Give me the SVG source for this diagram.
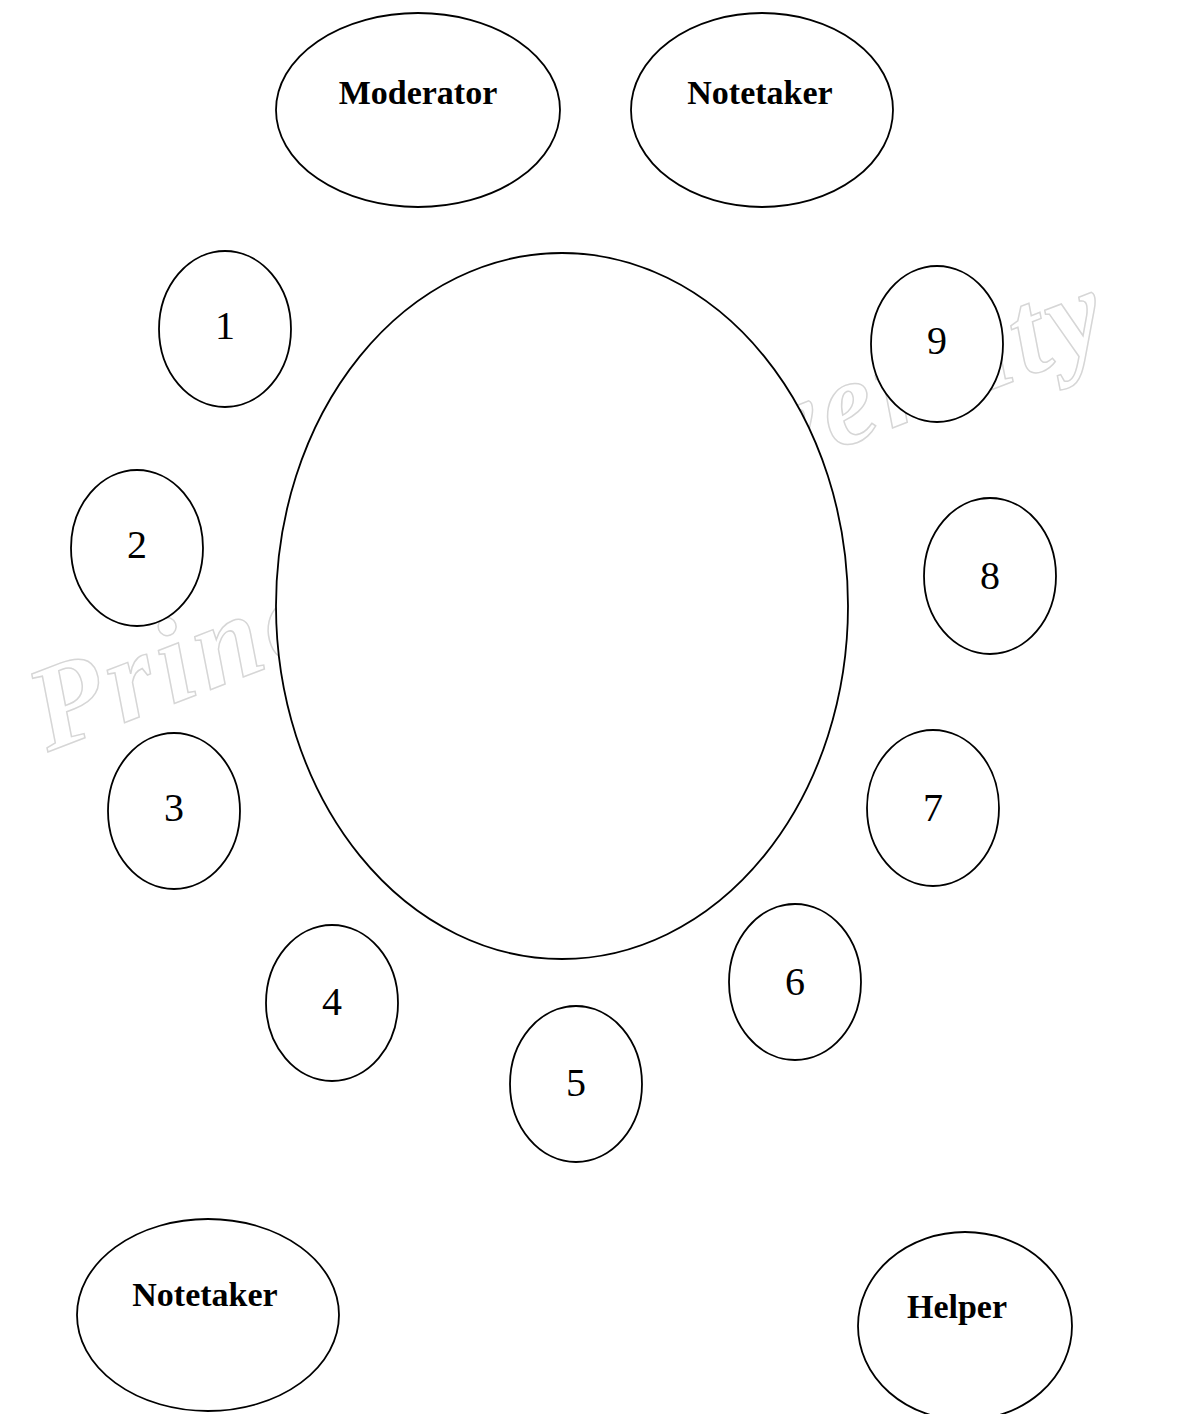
<svg xmlns="http://www.w3.org/2000/svg" width="1188" height="1414" viewBox="0 0 1188 1414">
<style>
.n{fill:#fff;stroke:#000;stroke-width:1.8}
.lb{font-family:"Liberation Serif",serif;font-weight:bold;font-size:34px;text-anchor:middle;fill:#000}
.num{font-family:"Liberation Serif",serif;font-size:40px;text-anchor:middle;fill:#000}
.wm{font-family:"Liberation Serif",serif;font-style:italic;font-weight:bold;font-size:120px;fill:#fff;stroke:#d6d6d6;stroke-width:1.5}
</style>
<rect width="1188" height="1414" fill="#fff"/>
<text class="wm" x="48" y="752" transform="rotate(-21 48 752)" textLength="1140" lengthAdjust="spacing">Princeton University</text>
<g id="connectors"></g>
<g id="moderator"><ellipse class="n" cx="418" cy="110" rx="142" ry="97"/><text class="lb" x="418" y="104">Moderator</text></g>
<g id="notetaker-top"><ellipse class="n" cx="762" cy="110" rx="131" ry="97"/><text class="lb" x="760" y="104">Notetaker</text></g>
<g id="table"><ellipse class="n" cx="562" cy="606" rx="286" ry="353"/></g>
<g id="seat1"><ellipse class="n" cx="225" cy="329" rx="66" ry="78"/><text class="num" x="225" y="339">1</text></g>
<g id="seat2"><ellipse class="n" cx="137" cy="548" rx="66" ry="78"/><text class="num" x="137" y="558">2</text></g>
<g id="seat3"><ellipse class="n" cx="174" cy="811" rx="66" ry="78"/><text class="num" x="174" y="821">3</text></g>
<g id="seat4"><ellipse class="n" cx="332" cy="1003" rx="66" ry="78"/><text class="num" x="332" y="1015">4</text></g>
<g id="seat5"><ellipse class="n" cx="576" cy="1084" rx="66" ry="78"/><text class="num" x="576" y="1096">5</text></g>
<g id="seat6"><ellipse class="n" cx="795" cy="982" rx="66" ry="78"/><text class="num" x="795" y="995">6</text></g>
<g id="seat7"><ellipse class="n" cx="933" cy="808" rx="66" ry="78"/><text class="num" x="933" y="821">7</text></g>
<g id="seat8"><ellipse class="n" cx="990" cy="576" rx="66" ry="78"/><text class="num" x="990" y="589">8</text></g>
<g id="seat9"><ellipse class="n" cx="937" cy="344" rx="66" ry="78"/><text class="num" x="937" y="354">9</text></g>
<g id="notetaker-bottom"><ellipse class="n" cx="208" cy="1315" rx="131" ry="96"/><text class="lb" x="205" y="1306">Notetaker</text></g>
<g id="helper"><ellipse class="n" cx="965" cy="1326" rx="107" ry="94"/><text class="lb" x="957" y="1318">Helper</text></g>
</svg>
